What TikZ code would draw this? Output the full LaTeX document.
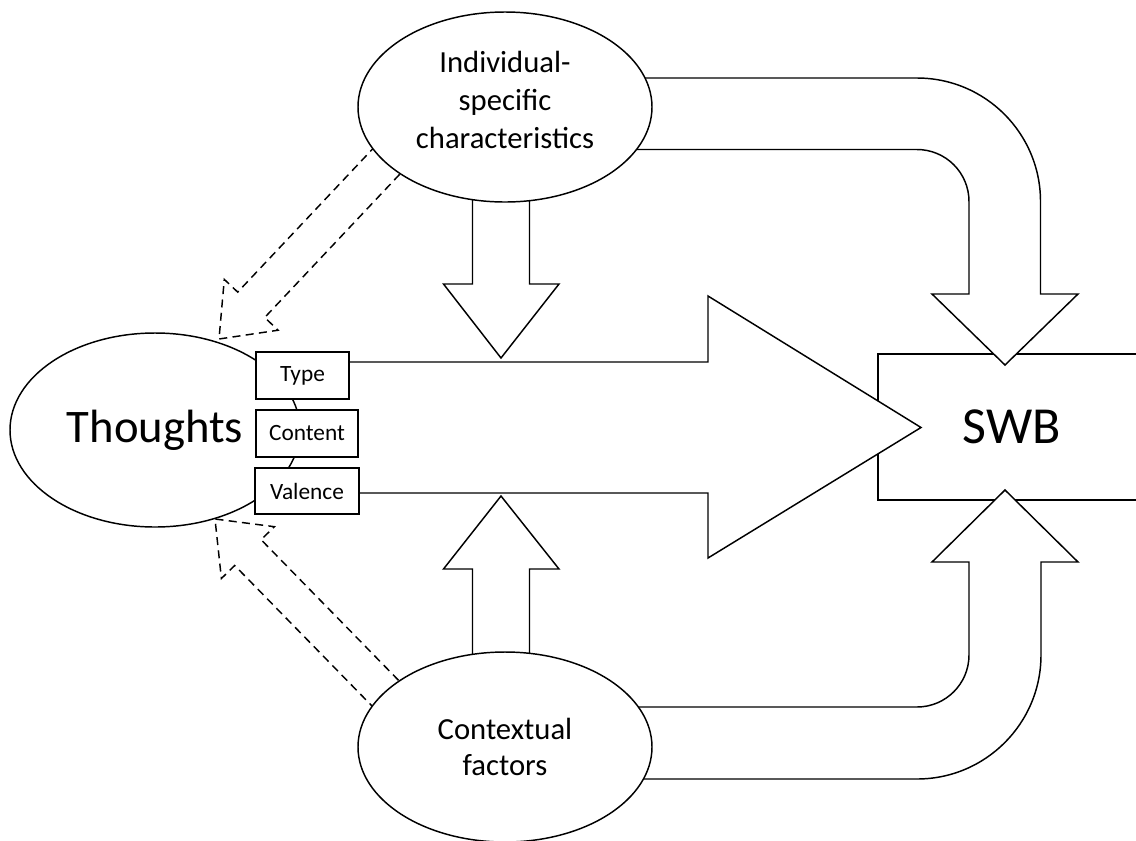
\documentclass[tikz,border=0pt]{standalone}
\usepackage{fontspec}
\setmainfont{Carlito}
\usetikzlibrary{shapes.geometric}
\begin{document}
\begin{tikzpicture}[x=0.75pt, y=-0.75pt, line width=1.1pt, line join=miter,
  blob/.style={ellipse, draw, fill=white, inner sep=0pt, align=center},
  tag/.style={rectangle, draw, fill=white, inner sep=0pt, minimum height=35.25pt,
              font=\fontsize{17.5}{21}\selectfont},
  block/.style={draw, fill=white},
  hint/.style={draw, dash pattern=on 6pt off 4pt},
  midfont/.style={font=\fontsize{23}{27.5}\selectfont}]

\path[use as bounding box] (0,0) rectangle (1136,840);
\clip (0,0) rectangle (1136,840);

% outcome box, open to the right
\node[draw, fill=white, inner sep=0pt, minimum width=201pt, minimum height=109.5pt,
      font=\fontsize{39}{47}\selectfont] (swb) at (1012,427) {SWB};

% curved block arrows into SWB
\draw[block] (560,78) -- (917,78) arc[start angle=-90, end angle=0, radius=123.5]
  -- (1040.5,294) -- (1078,294) -- (1005,365) -- (932,294) -- (969,294) -- (969,201.5)
  arc[start angle=0, end angle=-90, radius=52] -- (560,149.5) -- cycle;
\draw[block] (560,707) -- (917,707) arc[start angle=90, end angle=0, radius=52]
  -- (969,562) -- (932,562) -- (1005,490) -- (1078,562) -- (1041,562) -- (1041,655)
  arc[start angle=0, end angle=90, radius=124] -- (560,779) -- cycle;

% straight block arrows onto the main path
\draw[block] (472.5,150) -- (472.5,284) -- (443.5,284) -- (501,358) -- (559,284)
  -- (529.5,284) -- (529.5,150);
\draw[block] (472.5,700) -- (472.5,569) -- (443.5,569) -- (501,496) -- (559,569)
  -- (529.5,569) -- (529.5,700);

% dashed feedback arrows towards Thoughts
\draw[hint] (408.8,164.6) -- (264.7,317.5) -- (278.1,330.2) -- (219,339)
  -- (224.3,279.4) -- (237.7,292.1) -- (381.8,139.2);
\draw[hint] (407.9,689.9) -- (261.1,539.7) -- (274.4,526.7) -- (215,519)
  -- (221.4,578.5) -- (234.7,565.5) -- (381.5,715.7);

% moderators
\node[blob, minimum width=220.5pt, minimum height=142.5pt,
      label={[font=\fontsize{23}{28.5}\selectfont, align=center, yshift=5pt]center:Individual-\\specific\\characteristics}]
      (indiv) at (505,107) {};
\node[blob, minimum width=220.5pt, minimum height=142.5pt, midfont] (context) at (505,747)
      {Contextual\\factors};

% main arrow from thoughts to SWB
\fill[white] (340,362) -- (708,362) -- (708,296) -- (921,427.5) -- (708,558)
  -- (708,493) -- (340,493) -- cycle;
\draw (340,362) -- (708,362) -- (708,296) -- (921,427.5) -- (708,558)
  -- (708,493) -- (340,493);

% thoughts and their dimensions
\node[blob, minimum width=217.5pt, minimum height=145.5pt,
      font=\fontsize{35}{42}\selectfont] (thoughts) at (155,430) {Thoughts};
\node[tag, minimum width=69.75pt] (type) at (302.5,375.5) {Type};
\node[tag, minimum width=76.5pt] (content) at (307,433.5) {Content};
\node[tag, minimum width=78pt, minimum height=34.5pt] (valence) at (307,491) {Valence};

\end{tikzpicture}
\end{document}
